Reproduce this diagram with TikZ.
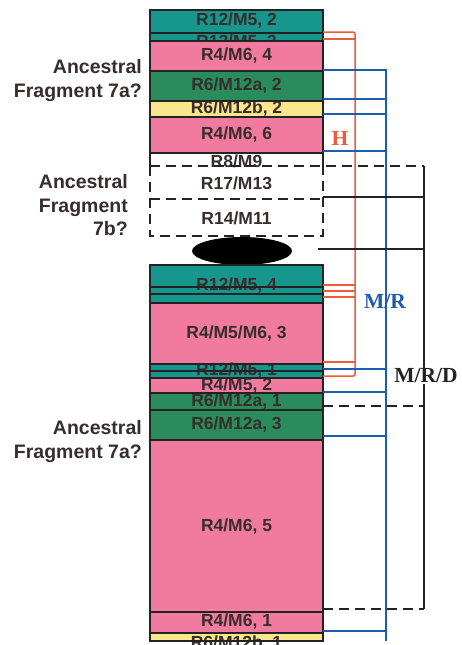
\documentclass[tikz,border=0pt]{standalone}
\usepackage{fontspec}
\setmainfont{Liberation Sans}
\newfontfamily\serifb{Liberation Serif}
\definecolor{teal1}{RGB}{22,150,140}
\definecolor{green1}{RGB}{42,140,92}
\definecolor{pink1}{RGB}{240,122,160}
\definecolor{yellow1}{RGB}{250,230,140}
\definecolor{txt}{RGB}{55,45,45}
\definecolor{orng}{RGB}{238,90,60}
\definecolor{blu}{RGB}{30,92,175}
\definecolor{blk}{RGB}{35,35,35}
\begin{document}
\begin{tikzpicture}[x=1pt,y=-1pt,
  lab/.style={inner sep=0pt,text=txt,font=\fontsize{17.5}{18}\selectfont\bfseries},
  side/.style={inner sep=0pt,anchor=base east,text=txt,font=\fontsize{19.5}{20}\selectfont\bfseries},
  sep/.style={draw=blk,line width=1.3pt},
  outline/.style={draw=blk,line width=1.5pt},
  dsh/.style={draw=blk,line width=1.8pt,dash pattern=on 10pt off 6pt},
  oline/.style={draw=orng,line width=1.5pt},
  bline/.style={draw=blu,line width=1.5pt},
  kline/.style={draw=blk,line width=1.5pt},
  biglab/.style={inner sep=1pt,font=\fontsize{21.5}{22}\selectfont\serifb\bfseries}]
\useasboundingbox (0,0) rectangle (461,645);
\clip (0,0) rectangle (461,645);
\fill[white] (0,0) rectangle (461,645);

% ---- upper block ----
\fill[teal1] (150,10) rectangle (323,33);
\node[lab] (r12m5b) at (236.5,21) {R12/M5, 2};
\fill[teal1] (150,33) rectangle (323,41);
\node[lab] (r12m5c) at (236.5,42.5) {R12/M5, 3};
\fill[pink1] (150,41) rectangle (323,71);
\node[lab] (r4m6d) at (236.5,56) {R4/M6, 4};
\fill[green1] (150,71) rectangle (323,101);
\node[lab] (r6m12a2) at (236.5,86) {R6/M12a, 2};
\fill[yellow1] (150,101) rectangle (323,117);
\node[lab] (r6m12b2) at (236.5,109) {R6/M12b, 2};
\fill[pink1] (150,117) rectangle (323,153);
\node[lab] (r4m6f) at (236.5,135) {R4/M6, 6};
\node[lab] (r8m9) at (236.5,161.5) {R8/M9};
\node[lab] (r17m13) at (236.5,183) {R17/M13};
\node[lab] (r14m11) at (236.5,218) {R14/M11};

\foreach \yy in {33,41,71,101,117,153} \draw[sep] (150,\yy) -- (323,\yy);
\draw[outline] (150,166) -- (150,10) -- (323,10) -- (323,166);

% dashed block
\draw[dsh] (150,166) -- (150,236) -- (323,236) -- (323,166);
\draw[dsh] (150,199) -- (323,199);

% centromere
\fill[black] (242,251) ellipse [x radius=50, y radius=14];

% ---- lower block ----
\fill[teal1] (150,265) rectangle (323,303);
\node[lab] (r12m5d) at (236.5,286) {R12/M5, 4};
\fill[pink1] (150,303) rectangle (323,364);
\node[lab] (r4m5m6) at (236.5,334) {R4/M5/M6, 3};
\fill[teal1] (150,364) rectangle (323,378);
\node[lab] (r12m5a) at (236.5,371) {R12/M5, 1};
\fill[pink1] (150,378) rectangle (323,393);
\node[lab] (r4m5b) at (236.5,386) {R4/M5, 2};
\fill[green1] (150,393) rectangle (323,410);
\node[lab] (r6m12a1) at (236.5,401.5) {R6/M12a, 1};
\fill[green1] (150,410) rectangle (323,440);
\node[lab] (r6m12a3) at (236.5,425) {R6/M12a, 3};
\fill[pink1] (150,440) rectangle (323,612);
\node[lab] (r4m6e) at (236.5,527) {R4/M6, 5};
\fill[pink1] (150,612) rectangle (323,633);
\node[lab] (r4m6a) at (236.5,622) {R4/M6, 1};
\fill[yellow1] (150,633) rectangle (323,641);
\node[lab] (r6m12b1) at (236.5,643.5) {R6/M12b, 1};

\foreach \yy in {287,294,303,364,371,378,393,410,440,612,633} \draw[sep] (150,\yy) -- (323,\yy);
\draw[outline] (150,265) rectangle (323,641);

% ---- buses ----
\coordinate (obus) at (355,32);
\coordinate (bbus) at (386,70);
\coordinate (kbus) at (424,166);

% orange (H)
\draw[oline,rounded corners=2pt] (323,32) -- (obus) -- (355,376) -- (323,376);
\foreach \yy in {39,285,291,297,362} \draw[oline] (323,\yy) -- (355,\yy);

% blue (M/R)
\draw[bline] (323,70) -- (bbus) -- (386,641);
\foreach \yy in {99,114,151,369,392,436,631} \draw[bline] (323,\yy) -- (386,\yy);

% black (M/R/D)
\draw[dsh] (150,166) -- (kbus);
\draw[kline] (kbus) -- (424,609);
\draw[kline] (323,197) -- (424,197);
\draw[kline] (318,249) -- (424,249);
\draw[dsh] (323,406) -- (424,406);
\draw[dsh] (323,609) -- (424,609);

% labels
\node[biglab,text=orng] (lH) at (340,138) {H};
\node[biglab,text=blu] (lMR) at (385,302) {M/R};
\node[biglab,text=blk,fill=white] (lMRD) at (426,376) {M/R/D};

\node[side] (a1) at (142,73) {Ancestral};
\node[side] (a2) at (142,97) {Fragment 7a?};
\node[side] (b1) at (128,188) {Ancestral};
\node[side] (b2) at (128,212) {Fragment};
\node[side] (b3) at (128,235) {7b?};
\node[side] (c1) at (142,434) {Ancestral};
\node[side] (c2) at (142,458) {Fragment 7a?};
\end{tikzpicture}
\end{document}
